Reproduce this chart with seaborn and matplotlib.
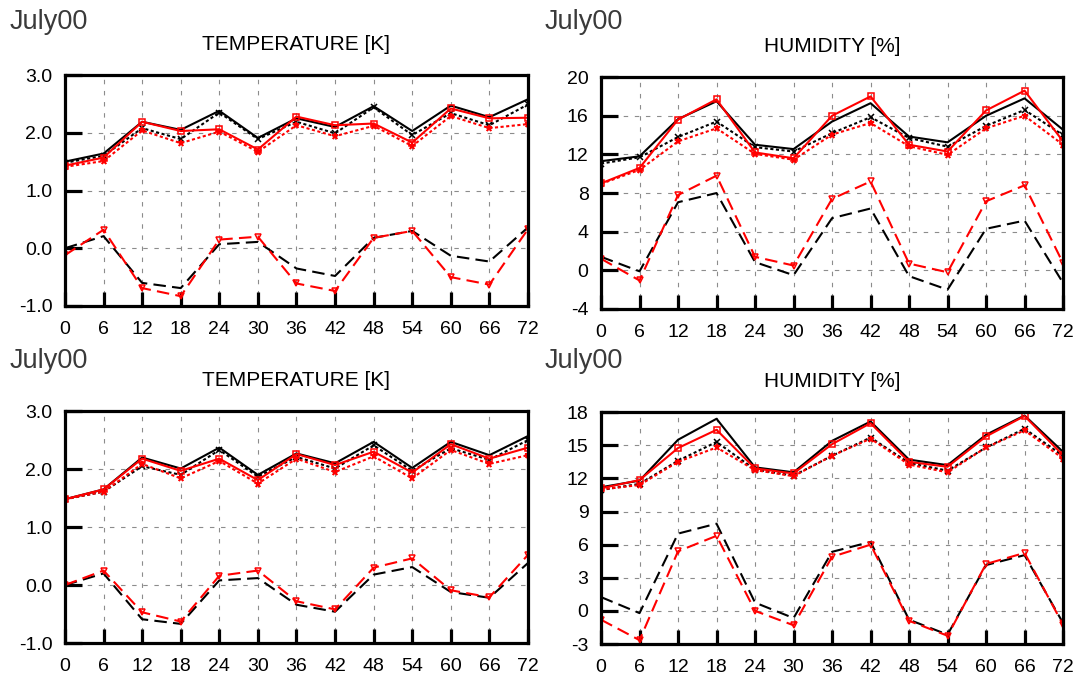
import matplotlib
matplotlib.use("Agg")
import matplotlib.pyplot as plt
import seaborn as sns

# forecast hours
hours = [0, 6, 12, 18, 24, 30, 36, 42, 48, 54, 60, 66, 72]

# top-left: temperature
t1_blk_solid = [1.50, 1.64, 2.19, 2.05, 2.38, 1.91, 2.25, 2.10, 2.46, 2.03, 2.47, 2.27, 2.58]
t1_blk_dot = [1.48, 1.60, 2.08, 1.89, 2.35, 1.89, 2.19, 1.99, 2.44, 1.96, 2.34, 2.13, 2.49]
t1_blk_dash = [0.00, 0.21, -0.60, -0.69, 0.07, 0.11, -0.35, -0.48, 0.18, 0.30, -0.13, -0.23, 0.36]
t1_red_solid = [1.43, 1.57, 2.19, 2.03, 2.06, 1.71, 2.28, 2.13, 2.16, 1.83, 2.42, 2.25, 2.26]
t1_red_dot = [1.41, 1.51, 2.04, 1.82, 2.02, 1.67, 2.13, 1.94, 2.12, 1.77, 2.29, 2.08, 2.15]
t1_red_dash = [-0.12, 0.32, -0.69, -0.83, 0.15, 0.20, -0.61, -0.74, 0.18, 0.30, -0.50, -0.63, 0.33]

# top-right: humidity
h1_blk_solid = [11.3, 11.8, 15.65, 17.5, 13.0, 12.55, 15.4, 17.3, 13.85, 13.25, 16.0, 17.8, 14.55]
h1_blk_dot = [11.05, 11.7, 13.8, 15.4, 12.75, 12.3, 14.2, 15.85, 13.7, 12.8, 14.95, 16.6, 14.0]
h1_blk_dash = [1.4, -0.1, 7.05, 8.0, 0.85, -0.5, 5.4, 6.4, -0.6, -2.0, 4.3, 5.15, -1.3]
h1_red_solid = [9.0, 10.6, 15.6, 17.7, 12.2, 11.6, 16.0, 18.0, 13.0, 12.3, 16.55, 18.6, 13.35]
h1_red_dot = [8.95, 10.4, 13.35, 14.7, 12.05, 11.45, 14.05, 15.25, 12.85, 11.95, 14.7, 16.0, 13.0]
h1_red_dash = [1.2, -1.05, 7.8, 9.8, 1.4, 0.5, 7.4, 9.2, 0.7, -0.2, 7.15, 8.8, 0.75]

# bottom-left: temperature
t2_blk_solid = [1.48, 1.65, 2.20, 2.01, 2.37, 1.90, 2.27, 2.10, 2.47, 2.02, 2.47, 2.24, 2.57]
t2_blk_dot = [1.48, 1.61, 2.05, 1.90, 2.33, 1.87, 2.21, 2.01, 2.41, 1.97, 2.36, 2.16, 2.50]
t2_blk_dash = [0.00, 0.20, -0.59, -0.67, 0.08, 0.12, -0.34, -0.46, 0.18, 0.31, -0.12, -0.22, 0.38]
t2_red_solid = [1.48, 1.65, 2.18, 1.97, 2.18, 1.81, 2.26, 2.07, 2.30, 1.94, 2.43, 2.18, 2.37]
t2_red_dot = [1.48, 1.61, 2.09, 1.84, 2.14, 1.75, 2.18, 1.95, 2.22, 1.84, 2.33, 2.09, 2.24]
t2_red_dash = [0.00, 0.25, -0.47, -0.63, 0.16, 0.25, -0.28, -0.42, 0.30, 0.46, -0.09, -0.21, 0.52]

# bottom-right: humidity
h2_blk_solid = [11.2, 11.8, 15.5, 17.4, 13.0, 12.55, 15.4, 17.15, 13.7, 13.2, 15.95, 17.7, 14.4]
h2_blk_dot = [10.95, 11.5, 13.6, 15.3, 12.8, 12.25, 14.05, 15.7, 13.4, 12.7, 14.8, 16.5, 14.05]
h2_blk_dash = [1.25, -0.2, 7.0, 7.9, 0.75, -0.65, 5.35, 6.25, -0.8, -2.15, 4.15, 5.05, -1.1]
h2_red_solid = [11.1, 11.85, 14.75, 16.4, 12.9, 12.45, 15.1, 17.0, 13.5, 13.05, 15.8, 17.65, 14.1]
h2_red_dot = [11.0, 11.4, 13.5, 14.8, 12.75, 12.2, 14.05, 15.6, 13.25, 12.55, 14.8, 16.35, 13.8]
h2_red_dash = [-0.8, -2.65, 5.4, 6.8, 0.0, -1.3, 4.9, 6.0, -0.9, -2.25, 4.25, 5.25, -1.25]

temp_ticks = [-1.0, 0.0, 1.0, 2.0, 3.0]
hum1_ticks = [-4, 0, 4, 8, 12, 16, 20]
hum2_ticks = [-3, 0, 3, 6, 9, 12, 15, 18]

sns.set_theme(style="white")
plt.rcParams['font.family'] = ['Liberation Sans', 'DejaVu Sans']
plt.rcParams['axes.unicode_minus'] = False
plt.rcParams['text.color'] = 'black'
plt.rcParams['xtick.color'] = 'black'
plt.rcParams['ytick.color'] = 'black'

fig = plt.figure(figsize=(10.81, 6.8), dpi=100)

panels = [
    ([0.0601, 0.550, 0.4283, 0.3397], "TEMPERATURE [K]",
     [t1_blk_solid, t1_blk_dot, t1_blk_dash, t1_red_solid, t1_red_dot, t1_red_dash],
     temp_ticks, "{:.1f}"),
    ([0.5560, 0.5456, 0.4274, 0.341], "HUMIDITY [%]",
     [h1_blk_solid, h1_blk_dot, h1_blk_dash, h1_red_solid, h1_red_dot, h1_red_dash],
     hum1_ticks, "{:d}"),
    ([0.0601, 0.0544, 0.4283, 0.341], "TEMPERATURE [K]",
     [t2_blk_solid, t2_blk_dot, t2_blk_dash, t2_red_solid, t2_red_dot, t2_red_dash],
     temp_ticks, "{:.1f}"),
    ([0.5560, 0.0529, 0.4274, 0.341], "HUMIDITY [%]",
     [h2_blk_solid, h2_blk_dot, h2_blk_dash, h2_red_solid, h2_red_dot, h2_red_dash],
     hum2_ticks, "{:d}"),
]

# colour, linestyle, marker, marker face
styles = [
    ('black', '-', None, 'none'),
    ('black', (0, (1.5, 1.2)), 'x', 'none'),
    ('black', (0, (6, 3)), None, 'none'),
    ('red', '-', 's', 'none'),
    ('red', (0, (1.5, 1.2)), '*', 'red'),
    ('red', (0, (6, 3)), 'v', 'none'),
]

for rect, title, series, yticks, fmt in panels:
    ax = fig.add_axes(rect)
    for vals, (col, ls, mk, mfc) in zip(series, styles):
        sns.lineplot(x=hours, y=vals, ax=ax, color=col, linestyle=ls,
                     marker=mk, markersize=5, markerfacecolor=mfc,
                     markeredgecolor=col, markeredgewidth=1.1,
                     linewidth=1.5, errorbar=None)
    ax.set_xlim(0, 72)
    ax.set_ylim(yticks[0], yticks[-1])
    ax.set_xticks(hours)
    ax.set_yticks(yticks)
    ax.set_yticklabels([fmt.format(v) for v in yticks])
    ax.set_xlabel('')
    ax.set_ylabel('')
    ax.grid(True, color='#8c8c8c', linestyle=(0, (4, 6)), linewidth=0.8)
    ax.set_axisbelow(True)
    for sp in ax.spines.values():
        sp.set_linewidth(2.3)
        sp.set_color('black')
    ax.tick_params(axis='y', direction='in', length=12.5, width=2.3,
                   labelsize=14, pad=9, left=True, right=False,
                   colors='black')
    ax.tick_params(axis='x', direction='in', length=10, width=2.3,
                   labelsize=14, pad=11, bottom=True, top=False,
                   colors='black')
    ax.set_title(title, fontsize=15, pad=18, color='black')

for x, y in [(0.009, 0.967), (0.504, 0.967), (0.009, 0.469), (0.504, 0.469)]:
    fig.text(x, y, "July00", fontsize=19.5, color='#3a3a3a', va='center', ha='left')

fig.savefig("out.png", dpi=100)
